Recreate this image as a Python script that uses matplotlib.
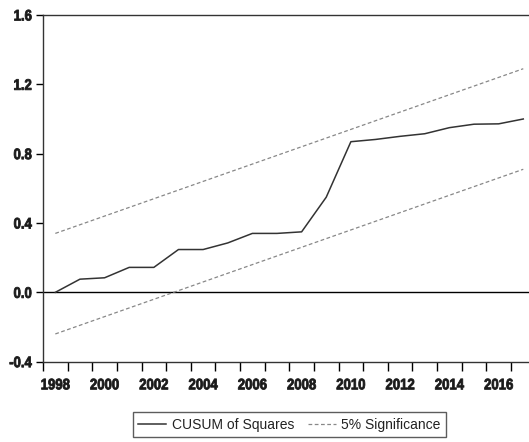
import matplotlib
matplotlib.use("Agg")
from matplotlib import pyplot as plt
from matplotlib.patheffects import AbstractPathEffect
from matplotlib.transforms import Affine2D
import numpy as np

plt.rcParams['font.family'] = ['Liberation Sans', 'DejaVu Sans']

# values (EViews CUSUM of squares test)
years = [1998, 1999, 2000, 2001, 2002, 2003, 2004, 2005, 2006, 2007,
         2008, 2009, 2010, 2011, 2012, 2013, 2014, 2015, 2016, 2017]
cusum_sq = [0.0, 0.076, 0.084, 0.144, 0.144, 0.247, 0.247, 0.285, 0.340, 0.340,
            0.349, 0.549, 0.869, 0.882, 0.900, 0.915, 0.950, 0.970, 0.972, 1.0]
upper_5 = [0.34, 0.39, 0.44, 0.49, 0.54, 0.59, 0.64, 0.69, 0.74, 0.79,
           0.84, 0.89, 0.94, 0.99, 1.04, 1.09, 1.14, 1.19, 1.24, 1.29]
lower_5 = [-0.24, -0.19, -0.14, -0.09, -0.04, 0.01, 0.06, 0.11, 0.16, 0.21,
           0.26, 0.31, 0.36, 0.41, 0.46, 0.51, 0.56, 0.61, 0.66, 0.71]
year_labels = ['1998', '2000', '2002', '2004', '2006', '2008', '2010', '2012', '2014', '2016']
y_ticks = [-0.4, 0.0, 0.4, 0.8, 1.2, 1.6]


class Squeeze(AbstractPathEffect):
    # horizontal squeeze + light stroke, stands in for the heavy narrow font of the original
    def __init__(self, sx=0.86, anchor='center', stroke=0.6):
        super().__init__()
        self.sx = sx
        self.anchor = anchor
        self.stroke = stroke

    def draw_path(self, renderer, gc, tpath, affine, rgbFace=None):
        ext = tpath.get_extents(affine)
        if self.anchor == 'right':
            cx = ext.x1
        elif self.anchor == 'left':
            cx = ext.x0
        else:
            cx = (ext.x0 + ext.x1) / 2
        sq = Affine2D().translate(-cx, 0).scale(self.sx, 1).translate(cx, 0)
        gc0 = renderer.new_gc()
        gc0.copy_properties(gc)
        gc0.set_linewidth(self.stroke)
        if rgbFace is not None:
            gc0.set_foreground(rgbFace)
        renderer.draw_path(gc0, tpath, affine + sq, rgbFace)
        gc0.restore()


fig = plt.figure(figsize=(5.29, 4.42), dpi=100)
# axes runs a little past the right edge, like the cropped original
ax = fig.add_axes([43 / 529, 0.1817, 492.6 / 529, 0.7844])

ax.axhline(0, color='black', linewidth=1.0, zorder=1)
l1, = ax.plot(years, cusum_sq, color='#333333', linewidth=1.1, label='CUSUM of Squares', zorder=3)
l2, = ax.plot(years, upper_5, color='#888888', linewidth=0.9, linestyle=(0, (3, 2)),
              label='5% Significance', zorder=2)
ax.plot(years, lower_5, color='#888888', linewidth=0.9, linestyle=(0, (3, 2)), zorder=2)

ax.set_xlim(1997.5, 2017.5)
ax.set_ylim(-0.4, 1.6)

# ticks at year boundaries, labels centred on every second year
ax.set_xticks(np.arange(1997.5, 2017.0, 1.0))
ax.set_xticklabels([])
ax.set_xticks([int(y) for y in year_labels], minor=True)
ax.set_xticklabels(year_labels, minor=True)
ax.tick_params(axis='x', which='major', direction='out', length=6.5, width=1, color='black')
ax.tick_params(axis='x', which='minor', length=0, pad=12)

ax.set_yticks(y_ticks)
ax.set_yticklabels([f'{v:.1f}' for v in y_ticks])
ax.tick_params(axis='y', direction='out', length=5, width=1, color='black', pad=3)

for lab in ax.get_xticklabels(minor=True):
    lab.set_fontweight('bold')
    lab.set_fontsize(11)
    lab.set_color('#1a1a1a')
    lab.set_path_effects([Squeeze(0.86, 'center')])
for lab in ax.get_yticklabels():
    lab.set_fontweight('bold')
    lab.set_fontsize(11)
    lab.set_color('#1a1a1a')
    lab.set_path_effects([Squeeze(0.86, 'right')])

for side in ['left', 'bottom', 'top', 'right']:
    ax.spines[side].set_color('#333333')
    ax.spines[side].set_linewidth(1.0)

leg = fig.legend(handles=[l1, l2], loc='center', bbox_to_anchor=(289.5 / 529, 1 - 424.5 / 442),
                 ncol=2, frameon=True, fancybox=False, fontsize=10, handlelength=2.0,
                 handletextpad=0.4, columnspacing=1.0, borderpad=0.4)
leg.get_frame().set_edgecolor('#333333')
leg.get_frame().set_linewidth(1.0)
for t in leg.get_texts():
    t.set_color('#222222')

fig.savefig('out.png', dpi=100)
